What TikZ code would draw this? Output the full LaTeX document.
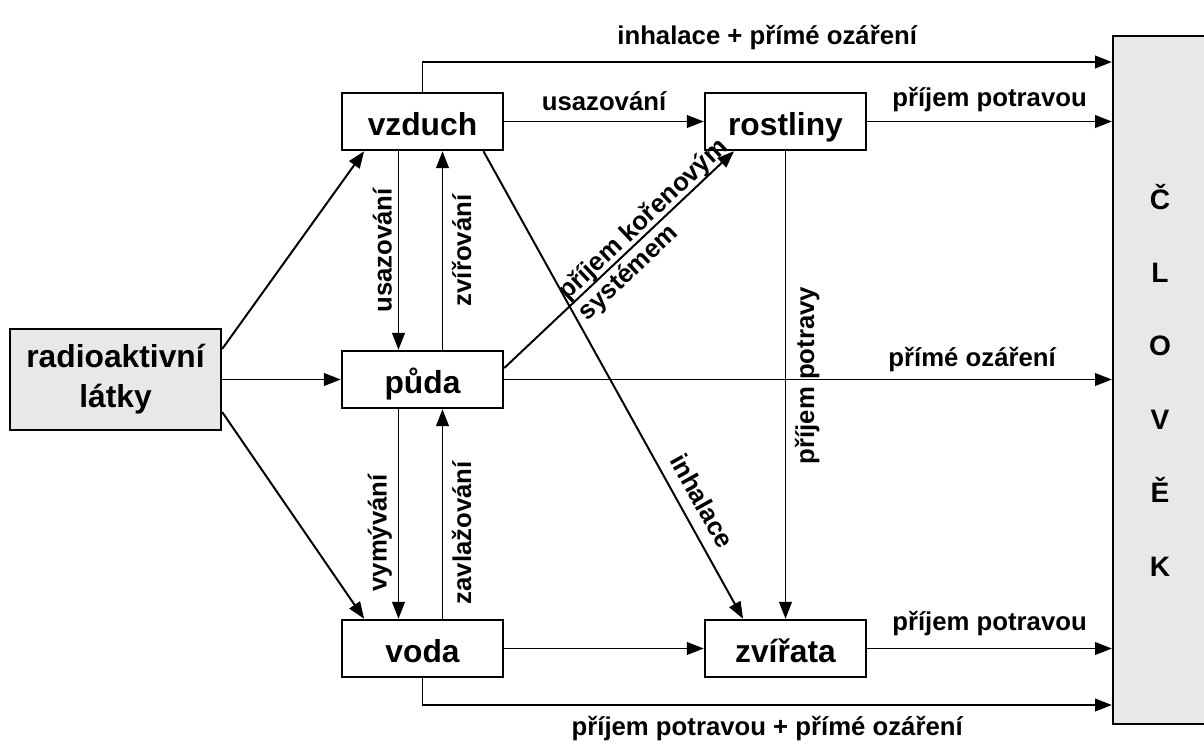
\documentclass[tikz,border=0pt]{standalone}
\usepackage{fontspec}
\setmainfont{Liberation Sans}
\usetikzlibrary{arrows.meta}
\definecolor{boxgray}{gray}{0.91}

\tikzstyle{block} = [rectangle, draw, line width=1.6pt, minimum width=4.03cm, minimum height=1.43cm, inner sep=0pt, font=\fontsize{22.6}{28.5}\selectfont\bfseries]
\tikzstyle{cell} = [block, text height=22.6pt, text depth=3.4pt]
\tikzstyle{flow} = [-{Triangle[length=12pt,width=9pt]}, line width=1.4pt]

\begin{document}
\begin{tikzpicture}[x=0.025cm,y=-0.025cm]
        \tikzset{lbl/.style={font=\fontsize{18.3}{19}\selectfont\bfseries, inner sep=3pt},
                 vleft/.style={lbl, rotate=90, anchor=south, inner sep=4pt},
                 vright/.style={lbl, rotate=90, anchor=north, inner sep=6pt}}
        \useasboundingbox (0,0) rectangle (1204,751);
        % Compartments
        \node (src) at (115.5,379.5) [block, fill=boxgray, minimum width=5.28cm, minimum height=2.52cm, align=center] {radioaktivní\\látky};
        \node (vzduch) at (422.5,121.5) [cell] {vzduch};
        \node (puda) at (422.5,379.5) [cell] {půda};
        \node (voda) at (422.5,648.5) [cell] {voda};
        \node (rostliny) at (785.5,121.5) [cell] {rostliny};
        \node (zvirata) at (785.5,648.5) [cell] {zvířata};
        \node (clovek) at (1160,380) [block, fill=boxgray, minimum width=2.35cm, minimum height=17.2cm, align=center,
            font=\fontsize{20}{52.2}\selectfont\bfseries] {Č\\L\\O\\V\\Ě\\K};

        % From the source
        \draw[flow] (src.16) -- (vzduch.207);
        \draw[flow] (src) -- (puda);
        \draw[flow] (src.-17) -- (voda.153);

        % Between air, soil and water
        \draw[flow] ([xshift=-0.6cm]vzduch.south) -- ([xshift=-0.6cm]puda.north) node[vleft, midway] {usazování};
        \draw[flow] ([xshift=0.5cm]puda.north) -- ([xshift=0.5cm]vzduch.south) node[vright, midway] {zvířování};
        \draw[flow] ([xshift=-0.6cm]puda.south) -- ([xshift=-0.6cm]voda.north) node[vleft, pos=0.59] {vymývání};
        \draw[flow] ([xshift=0.5cm]voda.north) -- ([xshift=0.5cm]puda.south) node[vright, pos=0.41] {zavlažování};

        % Plants and animals
        \draw[flow] (vzduch) -- (rostliny) node[lbl, midway, above=4pt] {usazování};
        \draw[flow] (puda.8) -- (rostliny.210)
            node[lbl, sloped, pos=0.28, anchor=south west, inner sep=2pt, text depth=1pt] {příjem kořenovým}
            node[lbl, sloped, pos=0.28, anchor=north west, inner sep=2.5pt] {systémem};
        \draw[flow] (vzduch.-26) -- (zvirata.145) node[lbl, sloped, pos=0.77, above=5pt] {inhalace};
        \draw[flow] (rostliny) -- (zvirata) node[vright, pos=0.48] {příjem potravy};
        \draw[flow] (voda) -- (zvirata);

        % Towards man
        \draw[flow] (vzduch.north) |- (clovek.west |- 0,62) node[lbl, pos=0.75, above=5pt] {inhalace + přímé ozáření};
        \draw[flow] (rostliny) -- (rostliny -| clovek.west) node[lbl, midway, above=3pt] {příjem potravou};
        \draw[flow] (puda) -- (puda -| clovek.west) node[lbl, pos=0.77, above=2pt] {přímé ozáření};
        \draw[flow] (zvirata) -- (zvirata -| clovek.west) node[lbl, midway, above=5pt] {příjem potravou};
        \draw[flow] (voda.south) |- (clovek.west |- 0,705) node[lbl, pos=0.75, below=4pt] {příjem potravou + přímé ozáření};
\end{tikzpicture}
\end{document}
